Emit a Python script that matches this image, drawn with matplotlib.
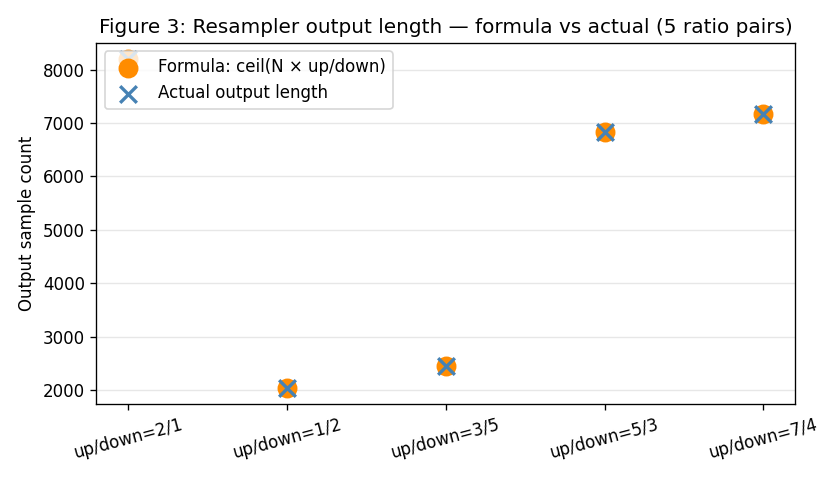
import numpy as np
import matplotlib
matplotlib.use('Agg')
import matplotlib.pyplot as plt

# N = 4096 input samples
ratio_labels = ["up/down=2/1", "up/down=1/2", "up/down=3/5", "up/down=5/3", "up/down=7/4"]
formula_len = [8192, 2048, 2458, 6827, 7168]
actual_len = [8192, 2048, 2458, 6827, 7168]


def main():
    x = np.arange(len(ratio_labels))
    fig, ax = plt.subplots(figsize=(7, 4), dpi=120)
    ax.scatter(x, formula_len, s=120, color='darkorange', zorder=3,
               label="Formula: ceil(N \u00d7 up/down)")
    ax.scatter(x, actual_len, s=100, marker='x', color='steelblue', linewidths=2,
               zorder=4, label="Actual output length")
    ax.set_xticks(x)
    ax.set_xticklabels(ratio_labels, rotation=15)
    ax.set_ylabel("Output sample count")
    ax.set_title("Figure 3: Resampler output length \u2014 formula vs actual (5 ratio pairs)")
    ax.grid(axis='y', alpha=0.3)
    ax.legend(loc='upper left')
    plt.tight_layout()
    plt.savefig("out.png", dpi=120)
    plt.close()


if __name__ == "__main__":
    main()
